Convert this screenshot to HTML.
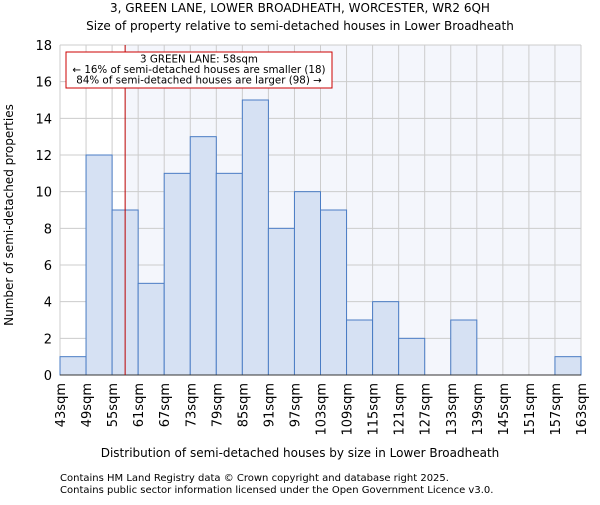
<!DOCTYPE html>
<html><head><meta charset="utf-8"><style>body{margin:0;background:#fff}svg text{font-family:"DejaVu Sans","Liberation Sans",sans-serif}</style></head>
<body>
<svg id="c" width="600" height="500" xmlns="http://www.w3.org/2000/svg">
<text x="300" y="12" text-anchor="middle" font-size="12">3, GREEN LANE, LOWER BROADHEATH, WORCESTER, WR2 6QH</text>
<text x="300" y="30" text-anchor="middle" font-size="12">Size of property relative to semi-detached houses in Lower Broadheath</text>
<g id="plot"></g>
<text x="300" y="457" text-anchor="middle" font-size="12">Distribution of semi-detached houses by size in Lower Broadheath</text>
<text transform="translate(13,215) rotate(-90)" text-anchor="middle" font-size="12">Number of semi-detached properties</text>
<text x="60" y="481" font-size="10">Contains HM Land Registry data © Crown copyright and database right 2025.</text>
<text x="60" y="493" font-size="10">Contains public sector information licensed under the Open Government Licence v3.0.</text>
</svg>
<script>
const categories=[43,49,55,61,67,73,79,85,91,97,103,109,115,121,127,133,139,145,151,157];
const values=[1,12,9,5,11,13,11,15,8,10,9,3,4,2,0,3,0,0,0,1];
const yTicks=[0,2,4,6,8,10,12,14,16,18];
const xTickLabels=["43sqm","49sqm","55sqm","61sqm","67sqm","73sqm","79sqm","85sqm","91sqm","97sqm","103sqm","109sqm","115sqm","121sqm","127sqm","133sqm","139sqm","145sqm","151sqm","157sqm","163sqm"];
const propertySize=58;
const NS="http://www.w3.org/2000/svg";
const L=60,R=581,T=45,B=375,xmin=43,xmax=163,ymax=18;
const x=v=>L+(v-xmin)/(xmax-xmin)*(R-L);
const y=v=>B-v/ymax*(B-T);
const g=document.getElementById('plot');
function mk(t,a){const e=document.createElementNS(NS,t);for(const k in a)e.setAttribute(k,a[k]);g.appendChild(e);return e;}
let e=mk('rect',{x:x(propertySize),y:T,width:R-x(propertySize),height:B-T,fill:'#f4f6fc'});


yTicks.forEach(t=>{let l=mk('line',{x1:L,x2:R,y1:y(t),y2:y(t),stroke:'#ccc','stroke-width':1});


let tx=mk('text',{x:L-8,y:y(t)+5,'text-anchor':'end','font-size':13});tx.textContent=t;

});
xTickLabels.forEach((s,i)=>{const xv=x(xmin+i*6);
let l=mk('line',{x1:xv,x2:xv,y1:T,y2:B,stroke:'#ccc','stroke-width':1});


let tx=mk('text',{transform:`translate(${xv+5},${B+8}) rotate(-90)`,'text-anchor':'end','font-size':13});tx.textContent=s;

});
categories.forEach((c,i)=>{if(!values[i])return;const x0=x(c),x1=x(c+6);
let r=mk('rect',{x:x0,y:y(values[i]),width:x1-x0,height:B-y(values[i]),fill:'#d6e1f3',stroke:'#4a7cc4','stroke-width':1});

});
let ax=mk('line',{x1:L,x2:R,y1:B,y2:B,stroke:'#333'});


let pl=mk('line',{x1:x(propertySize),x2:x(propertySize),y1:T,y2:B,stroke:'#b00','stroke-width':1});


let bx=mk('rect',{x:66,y:52,width:266,height:36,fill:'#fff',stroke:'#c00','stroke-width':1});


["3 GREEN LANE: 58sqm","← 16% of semi-detached houses are smaller (18)","84% of semi-detached houses are larger (98) →"].forEach((s,i)=>{
let tx=mk('text',{x:199,y:62.5+i*10.5,'text-anchor':'middle','font-size':10.3});tx.textContent=s;

});
</script>
</body></html>
